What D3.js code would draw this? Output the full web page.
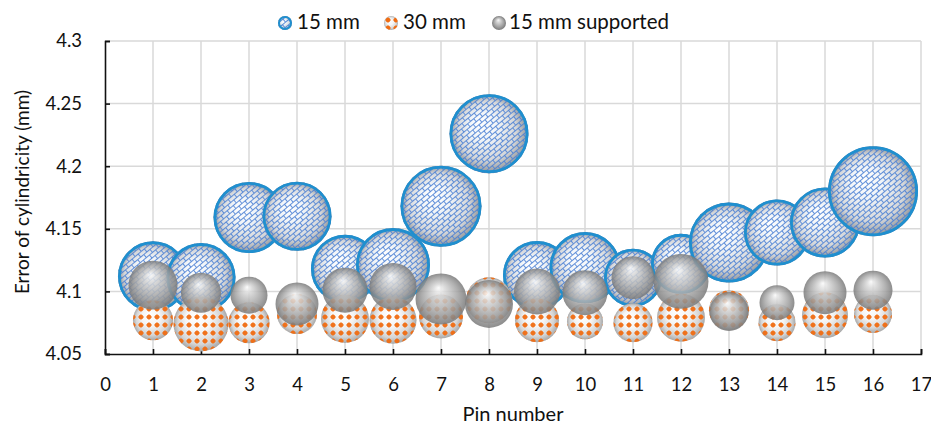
<!DOCTYPE html>
<html>
<head>
<meta charset="utf-8">
<script src="https://cdn.jsdelivr.net/npm/d3@7"></script>
<style>
  body { margin: 0; background: #fff; }
  text { font-family: Lato, "Open Sans", sans-serif; fill: #111; }
</style>
</head>
<body>
<div id="chart"></div>
<script>
// pin numbers on the x axis
const pins = [1, 2, 3, 4, 5, 6, 7, 8, 9, 10, 11, 12, 13, 14, 15, 16];

// error of cylindricity (mm) per series
const err15 = [4.112, 4.111, 4.159, 4.160, 4.118, 4.121, 4.168, 4.226, 4.113, 4.119, 4.111, 4.122, 4.139, 4.147, 4.155, 4.180];
const err30 = [4.077, 4.074, 4.075, 4.082, 4.078, 4.077, 4.080, 4.093, 4.077, 4.076, 4.075, 4.079, 4.085, 4.075, 4.081, 4.082];
const err15s = [4.105, 4.099, 4.097, 4.090, 4.101, 4.104, 4.094, 4.090, 4.100, 4.099, 4.111, 4.108, 4.084, 4.091, 4.099, 4.101];

// bubble sizes (relative)
const size15 = [60.5, 58.8, 62.2, 58.8, 57.1, 67.6, 81.0, 77.0, 57.1, 62.2, 41.5, 44.4, 79.0, 53.8, 60.5, 100];
const size30 = [19.8, 37.3, 20.8, 19.8, 28.4, 27.3, 23.9, 26.1, 23.9, 16.0, 18.8, 28.4, 19.8, 16.9, 26.1, 17.8];
const size15s = [29.6, 19.8, 16.9, 22.8, 25.0, 27.3, 32.1, 28.4, 26.1, 25.0, 22.8, 37.3, 18.8, 15.1, 22.8, 18.8];

const seriesNames = ['15 mm', '30 mm', '15 mm supported'];
const xTicks = d3.range(0, 18);
const yTicks = [4.05, 4.1, 4.15, 4.2, 4.25, 4.3];

const W = 931, H = 426;
const margin = { top: 41, right: 10, bottom: 72, left: 105 };
const width = 921 - margin.left;
const height = 354 - margin.top;

const svg = d3.select('#chart').append('svg')
    .attr('width', W)
    .attr('height', H);

const defs = svg.append('defs');

// sphere shading gradients
const addRadial = (id, stops, fx, fy) => {
    const g = defs.append('radialGradient').attr('id', id)
        .attr('cx', '50%').attr('cy', '50%').attr('r', '50%')
        .attr('fx', fx).attr('fy', fy);
    stops.forEach(s => g.append('stop').attr('offset', s[0]).attr('stop-color', s[1]));
};
addRadial('gradBlue', [[0, '#ffffff'], [0.35, '#f0f4f8'], [0.75, '#d4d6d9'], [1, '#8e9296']], '38%', '35%');
addRadial('gradOrange', [[0, '#ffffff'], [0.45, '#f5f5f5'], [0.8, '#d6d6d6'], [1, '#a8a8a8']], '40%', '35%');
addRadial('gradGray', [[0, '#fafafa'], [0.22, '#dadada'], [0.7, '#a2a2a2'], [1, '#7a7a7a']], '45%', '28%');

// brick hatch for the 15 mm series
const patBlue = defs.append('pattern').attr('id', 'patBlue')
    .attr('patternUnits', 'userSpaceOnUse')
    .attr('width', 16).attr('height', 8)
    .attr('patternTransform', 'rotate(-40)');
patBlue.append('path')
    .attr('d', 'M0,0.5H16M0,4.5H16M0.5,0.5V4.5M8.5,0.5V4.5M4.5,4.5V8.5M12.5,4.5V8.5')
    .attr('stroke', '#4a7fd4').attr('stroke-width', 0.9).attr('fill', 'none');

// dotted diamonds for the 30 mm series
const patOrange = defs.append('pattern').attr('id', 'patOrange')
    .attr('patternUnits', 'userSpaceOnUse')
    .attr('width', 8).attr('height', 8);
patOrange.append('path')
    .attr('d', 'M4,0.9 L5.3,2.7 L7.1,4 L5.3,5.3 L4,7.1 L2.7,5.3 L0.9,4 L2.7,2.7 Z')
    .attr('fill', '#f06c12');
patOrange.append('circle').attr('cx', 4).attr('cy', 4).attr('r', 2.3).attr('fill', '#f06c12');

const g = svg.append('g')
    .attr('transform', `translate(${margin.left},${margin.top})`);

const x = d3.scaleLinear().domain([0, 17]).range([0, width]);
const y = d3.scaleLinear().domain([4.05, 4.3]).range([height, 0]);
const r = d3.scaleSqrt().domain([0, 100]).range([0, 45]);

// gridlines
g.append('g').selectAll('line')
    .data(yTicks.slice(1))
    .join('line')
    .attr('x1', 0).attr('x2', width)
    .attr('y1', d => y(d)).attr('y2', d => y(d))
    .attr('stroke', '#d9d9d9').attr('stroke-width', 1.5);
g.append('g').selectAll('line')
    .data(xTicks.slice(1))
    .join('line')
    .attr('x1', d => x(d)).attr('x2', d => x(d))
    .attr('y1', 0).attr('y2', height)
    .attr('stroke', '#d9d9d9').attr('stroke-width', 1.5);

// axes
const yAxis = g.append('g')
    .call(d3.axisLeft(y).tickValues(yTicks).tickSize(-5).tickPadding(23)
        .tickFormat(d => String(+d.toFixed(2))));
const xAxis = g.append('g')
    .attr('transform', `translate(0,${height})`)
    .call(d3.axisBottom(x).tickValues(xTicks).tickSize(-5).tickPadding(24)
        .tickFormat(d3.format('d')));
[yAxis, xAxis].forEach(a => {
    a.select('.domain').attr('stroke', '#111').attr('stroke-width', 1.6);
    a.selectAll('.tick line').attr('stroke', '#111').attr('stroke-width', 1.6);
    a.selectAll('.tick text').attr('font-size', 18.5).attr('font-family', 'Lato, sans-serif').attr('fill', '#111');
});

// bubbles
const series = [
    { name: seriesNames[0], vals: err15, sizes: size15, grad: 'gradBlue', pat: 'patBlue', stroke: '#1f8fcf', opacity: 1 },
    { name: seriesNames[1], vals: err30, sizes: size30, grad: 'gradOrange', pat: 'patOrange', stroke: null, opacity: 1 },
    { name: seriesNames[2], vals: err15s, sizes: size15s, grad: 'gradGray', pat: null, stroke: null, opacity: 0.86 }
];

series.forEach(s => {
    const data = pins.map((p, i) => ({ pin: p, v: s.vals[i], size: s.sizes[i] }));
    const grp = g.append('g').selectAll('g')
        .data(data)
        .join('g')
        .attr('opacity', s.opacity);
    grp.append('circle')
        .attr('cx', d => x(d.pin)).attr('cy', d => y(d.v))
        .attr('r', d => r(d.size))
        .attr('fill', `url(#${s.grad})`);
    if (s.pat) {
        grp.append('circle')
            .attr('cx', d => x(d.pin)).attr('cy', d => y(d.v))
            .attr('r', d => r(d.size))
            .attr('fill', `url(#${s.pat})`)
            .attr('opacity', 0.95);
    }
    if (s.stroke) {
        grp.append('circle')
            .attr('cx', d => x(d.pin)).attr('cy', d => y(d.v))
            .attr('r', d => r(d.size) - 1.4)
            .attr('fill', 'none')
            .attr('stroke', s.stroke).attr('stroke-width', 2.8);
    }
});

// axis titles
svg.append('text')
    .attr('x', 513).attr('y', 421)
    .attr('text-anchor', 'middle')
    .attr('font-size', 20)
    .text('Pin number');
svg.append('text')
    .attr('transform', 'translate(29,192) rotate(-90)')
    .attr('text-anchor', 'middle')
    .attr('font-size', 19)
    .text('Error of cylindricity (mm)');

// legend
const legendPos = [{ cx: 285, tx: 297 }, { cx: 391, tx: 403 }, { cx: 499, tx: 509 }];
const legend = svg.append('g').selectAll('g')
    .data(series)
    .join('g');
legend.append('circle')
    .attr('cx', (d, i) => legendPos[i].cx).attr('cy', 23).attr('r', 7)
    .attr('fill', d => `url(#${d.grad})`);
legend.filter(d => d.pat).append('circle')
    .attr('cx', d => legendPos[series.indexOf(d)].cx).attr('cy', 23).attr('r', 7)
    .attr('fill', d => `url(#${d.pat})`);
legend.filter(d => d.stroke).append('circle')
    .attr('cx', d => legendPos[series.indexOf(d)].cx).attr('cy', 23).attr('r', 6)
    .attr('fill', 'none').attr('stroke', d => d.stroke).attr('stroke-width', 2);
legend.append('text')
    .attr('x', (d, i) => legendPos[i].tx).attr('y', 29)
    .attr('font-size', 20.5)
    .text(d => d.name);
</script>
</body>
</html>
